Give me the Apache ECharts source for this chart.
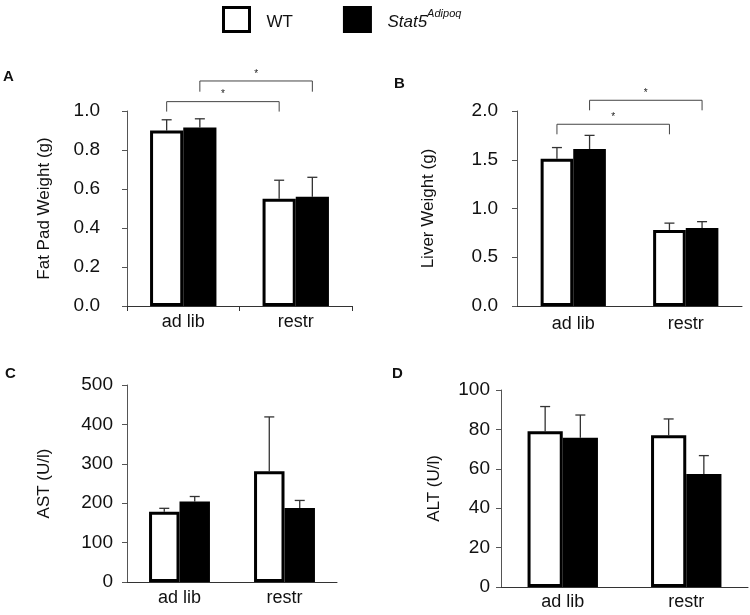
<!DOCTYPE html>
<html>
<head>
<meta charset="utf-8">
<script src="https://cdn.jsdelivr.net/npm/echarts@6/dist/echarts.min.js"></script>
<style>html,body{margin:0;padding:0;background:#fff}#c{width:750px;height:615px}</style>
</head>
<body>
<div id="c"></div>
<script>
// ---- data ----
const categories = ['ad lib', 'restr'];
const seriesNames = ['WT', 'Stat5'];

const fatWT = [0.90, 0.55];
const fatWTErr = [0.055, 0.095];
const fatKO = [0.915, 0.56];
const fatKOErr = [0.045, 0.10];

const liverWT = [1.51, 0.78];
const liverWTErr = [0.115, 0.07];
const liverKO = [1.61, 0.80];
const liverKOErr = [0.14, 0.065];

const astWT = [178, 281];
const astWTErr = [9, 138];
const astKO = [204, 188];
const astKOErr = [13, 19];

const altWT = [79, 77];
const altWTErr = [12.6, 8.3];
const altKO = [75.7, 57.4];
const altKOErr = [11.6, 9.3];

// brackets: [startCat, startSeries, endCat, endSeries, topValue, endValue]
const fatBrackets = [[0, 0, 1, 0, 1.048, 0.997], [0, 1, 1, 1, 1.154, 1.099]];
const liverBrackets = [[0, 0, 1, 0, 1.864, 1.761], [0, 1, 1, 1, 2.11, 2.007]];

// ---- chart ----
const FONT = 'Liberation Sans, Arial, sans-serif';
const panels = [
  {wt: fatWT, wtE: fatWTErr, ko: fatKO, koE: fatKOErr, max: 1.0, interval: 0.2, dec: 1,
   name: 'Fat Pad Weight (g)', grid: {left: 127, top: 111, width: 225, height: 195},
   gap: 0.41, labelMargin: 27, nameGap: 74, xTick: true, xLabelMargin: 7, brackets: fatBrackets},
  {wt: liverWT, wtE: liverWTErr, ko: liverKO, koE: liverKOErr, max: 2.0, interval: 0.5, dec: 1,
   name: 'Liver Weight (g)', grid: {left: 517, top: 111, width: 225, height: 195},
   gap: 0.42, labelMargin: 19, nameGap: 80, xTick: false, xLabelMargin: 9, brackets: liverBrackets},
  {wt: astWT, wtE: astWTErr, ko: astKO, koE: astKOErr, max: 500, interval: 100, dec: 0,
   name: 'AST (U/l)', grid: {left: 127, top: 385, width: 210, height: 197},
   gap: 0.42, labelMargin: 14, nameGap: 74, xTick: false, xLabelMargin: 7, brackets: null},
  {wt: altWT, wtE: altWTErr, ko: altKO, koE: altKOErr, max: 100, interval: 20, dec: 0,
   name: 'ALT (U/l)', grid: {left: 501, top: 390, width: 247, height: 197},
   gap: 0.43, labelMargin: 11, nameGap: 58, xTick: false, xLabelMargin: 6, brackets: null}
];

const grids = [], xAxes = [], yAxes = [], series = [];
panels.forEach((p, i) => {
  grids.push(Object.assign({}, p.grid));
  xAxes.push({
    type: 'category', gridIndex: i, data: categories,
    axisLine: {lineStyle: {color: '#333', width: 1}},
    axisTick: {show: p.xTick, length: 5, lineStyle: {color: '#333'}},
    axisLabel: {color: '#111', fontSize: 18, fontFamily: FONT, margin: p.xLabelMargin}
  });
  yAxes.push({
    type: 'value', gridIndex: i, min: 0, max: p.max, interval: p.interval,
    name: p.name, nameLocation: 'middle', nameGap: p.nameGap, nameRotate: 90,
    nameTextStyle: {color: '#111', fontSize: 17, fontFamily: FONT},
    splitLine: {show: false},
    axisLine: {show: true, lineStyle: {color: '#555', width: 1}},
    axisTick: {show: true, length: 5, lineStyle: {color: '#555'}},
    axisLabel: {color: '#111', fontSize: 19, fontFamily: FONT, margin: p.labelMargin,
      formatter: v => v.toFixed(p.dec)}
  });
  const gapPct = Math.round(p.gap * 100) + '%';
  series.push({
    type: 'bar', name: 'WT', xAxisIndex: i, yAxisIndex: i, data: p.wt,
    barGap: '0%', barCategoryGap: gapPct,
    itemStyle: {color: '#fff', borderColor: '#000', borderWidth: 3},
    emphasis: {disabled: true}, z: 2
  });
  series.push({
    type: 'bar', name: 'Stat5', xAxisIndex: i, yAxisIndex: i, data: p.ko,
    barGap: '0%', barCategoryGap: gapPct,
    itemStyle: {color: '#000', borderColor: '#000', borderWidth: 3},
    emphasis: {disabled: true}, z: 2
  });
  const errData = [];
  p.wt.forEach((v, k) => errData.push([k, v, v + p.wtE[k], 0]));
  p.ko.forEach((v, k) => errData.push([k, v, v + p.koE[k], 1]));
  series.push({
    type: 'custom', xAxisIndex: i, yAxisIndex: i, data: errData, z: 1, silent: true,
    encode: {x: 0, y: [1, 2]},
    renderItem: (params, api) => {
      const cat = api.value(0), v = api.value(1), top = api.value(2), s = api.value(3);
      const band = api.size([1, 0])[0];
      const bw = band * (1 - p.gap) / 2;
      const off = s === 0 ? -bw / 2 : bw / 2;
      const p0 = api.coord([cat, v]), p1 = api.coord([cat, top]);
      const x = p0[0] + off;
      const st = {stroke: '#333', lineWidth: 1.3};
      return {type: 'group', children: [
        {type: 'line', shape: {x1: x, y1: p0[1], x2: x, y2: p1[1]}, style: st},
        {type: 'line', shape: {x1: x - 5, y1: p1[1], x2: x + 5, y2: p1[1]}, style: st}
      ]};
    }
  });
  if (p.brackets) {
    series.push({
      type: 'custom', xAxisIndex: i, yAxisIndex: i, data: p.brackets, z: 3, silent: true,
      encode: {x: [0, 2], y: [4, 5]},
      renderItem: (params, api) => {
        const c1 = api.value(0), s1 = api.value(1), c2 = api.value(2), s2 = api.value(3);
        const topV = api.value(4), endV = api.value(5);
        const band = api.size([1, 0])[0];
        const bw = band * (1 - p.gap) / 2;
        const a = api.coord([c1, topV]), b = api.coord([c2, topV]);
        const e = api.coord([c1, endV]);
        const x1 = a[0] + (s1 === 0 ? -bw / 2 : bw / 2);
        const x2 = b[0] + (s2 === 0 ? -bw / 2 : bw / 2);
        const st = {stroke: '#444', lineWidth: 1, fill: null};
        return {type: 'group', children: [
          {type: 'polyline', shape: {points: [[x1, e[1]], [x1, a[1]], [x2, a[1]], [x2, e[1]]]}, style: st},
          {type: 'text', x: (x1 + x2) / 2, y: a[1] - 7,
           style: {text: '*', fill: '#222', fontSize: 10, fontFamily: FONT, align: 'center', verticalAlign: 'middle'}}
        ]};
      }
    });
  }
});

const chart = echarts.init(document.getElementById('c'), null, {renderer: 'canvas'});
chart.setOption({
  animation: false,
  backgroundColor: '#fff',
  grid: grids, xAxis: xAxes, yAxis: yAxes, series: series,
  legend: {
    top: 1, left: 217, itemWidth: 26, itemHeight: 24, itemGap: 50,
    icon: 'rect',
    data: [
      {name: 'WT', itemStyle: {color: '#fff', borderColor: '#000', borderWidth: 3}},
      {name: 'Stat5', itemStyle: {color: '#000', borderColor: '#000', borderWidth: 3}}
    ],
    formatter: n => n === 'WT' ? '{t|WT}' : '{i|Stat5}{s|Adipoq}',
    textStyle: {
      padding: [0, 0, 0, 12],
      rich: {
        t: {fontSize: 17, fontFamily: FONT, color: '#111', lineHeight: 22, verticalAlign: 'bottom'},
        i: {fontSize: 17, fontFamily: FONT, color: '#111', fontStyle: 'italic', lineHeight: 22, verticalAlign: 'bottom'},
        s: {fontSize: 11, fontFamily: FONT, color: '#111', fontStyle: 'italic', lineHeight: 22, verticalAlign: 'top'}
      }
    },
    selectedMode: false
  },
  graphic: [
    {type: 'text', left: 3, top: 69, style: {text: 'A', fontSize: 15, fontWeight: 'bold', fontFamily: FONT, fill: '#111'}},
    {type: 'text', left: 394, top: 76, style: {text: 'B', fontSize: 15, fontWeight: 'bold', fontFamily: FONT, fill: '#111'}},
    {type: 'text', left: 5, top: 366, style: {text: 'C', fontSize: 15, fontWeight: 'bold', fontFamily: FONT, fill: '#111'}},
    {type: 'text', left: 392, top: 366, style: {text: 'D', fontSize: 15, fontWeight: 'bold', fontFamily: FONT, fill: '#111'}}
  ]
});
</script>
</body>
</html>
